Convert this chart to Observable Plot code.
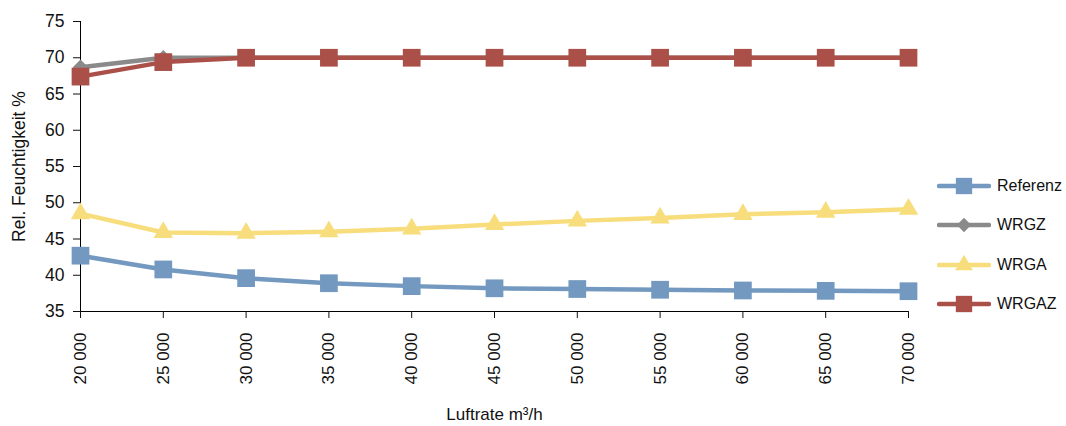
<!DOCTYPE html>
<html>
<head>
<meta charset="utf-8">
<script src="https://cdn.jsdelivr.net/npm/d3@7"></script>
<script src="https://cdn.jsdelivr.net/npm/@observablehq/plot@0.6"></script>
<style>
  html, body { margin: 0; padding: 0; background: #fff; }
  #wrap { position: relative; width: 1066px; height: 426px; font-family: "Liberation Sans", Arial, sans-serif; }
  #legend { position: absolute; left: 937px; top: 166px; }
  .item { display: flex; align-items: center; height: 39.5px; font-size: 16px; color: #111; white-space: nowrap; }
  .item svg { margin-right: 6px; }
</style>
</head>
<body>
<div id="wrap"><div id="chart"></div><div id="legend"></div></div>
<script>
const xValues = [20000, 25000, 30000, 35000, 40000, 45000, 50000, 55000, 60000, 65000, 70000];
const referenz = [42.7, 40.8, 39.6, 38.9, 38.5, 38.2, 38.1, 38.0, 37.9, 37.85, 37.8];
const wrgz     = [68.7, 70.0, 70.0, 70.0, 70.0, 70.0, 70.0, 70.0, 70.0, 70.0, 70.0];
const wrga     = [48.5, 45.9, 45.8, 46.0, 46.4, 47.0, 47.5, 47.9, 48.4, 48.7, 49.1];
const wrgaz    = [67.4, 69.4, 70.0, 70.0, 70.0, 70.0, 70.0, 70.0, 70.0, 70.0, 70.0];
const seriesNames = ["Referenz", "WRGZ", "WRGA", "WRGAZ"];
const seriesValues = [referenz, wrgz, wrga, wrgaz];
const seriesColors = ["#7399c0", "#8a8a8a", "#f8dd7c", "#aa5049"];
const seriesSymbols = ["square", "diamond2", "triangle", "square"];
const seriesRadius = [10, 7, 7.2, 10];
const yTicks = [35, 40, 45, 50, 55, 60, 65, 70, 75];
const xTicks = xValues;
const yLabel = "Rel. Feuchtigkeit %";
const xLabel = "Luftrate m³/h";

const rows = [];
seriesNames.forEach((s, i) => xValues.forEach((x, j) => rows.push({series: s, x, y: seriesValues[i][j]})));

const fmt = d => d3.format(",")(d).replace(",", "\u00A0");

const marks = [
  Plot.ruleY([yTicks[0]], {stroke: "#000", strokeWidth: 1}),
  Plot.ruleX([xValues[0]], {stroke: "#000", strokeWidth: 1}),
  Plot.axisY({ticks: yTicks, tickSize: 7, tickPadding: 9, fontSize: 17.5, label: yLabel, labelAnchor: "center", labelOffset: 68, labelArrow: "none"}),
  Plot.axisX({ticks: xTicks, tickSize: 7, tickPadding: 14, tickRotate: -90, tickFormat: fmt, label: xLabel, labelAnchor: "center", labelOffset: 108, labelArrow: "none"})
];
seriesNames.forEach((s, i) => {
  const d = rows.filter(r => r.series === s);
  marks.push(Plot.line(d, {x: "x", y: "y", stroke: "series", strokeWidth: 4.5}));
  marks.push(Plot.dot(d, {x: "x", y: "y", fill: "series", symbol: "series", r: seriesRadius[i], stroke: "none"}));
});

const chart = Plot.plot({
  width: 930,
  height: 426,
  marginLeft: 80,
  marginRight: 22,
  marginTop: 21,
  marginBottom: 115,
  style: {fontFamily: "Liberation Sans, Arial, sans-serif", fontSize: "17px", color: "#111", background: "#fff"},
  x: {domain: [xValues[0], xValues[xValues.length - 1]]},
  y: {domain: [yTicks[0], yTicks[yTicks.length - 1]]},
  color: {domain: seriesNames, range: seriesColors},
  symbol: {domain: seriesNames, range: seriesSymbols},
  marks
});
document.getElementById("chart").appendChild(chart);

const legend = document.getElementById("legend");
seriesNames.forEach((s, i) => {
  const item = document.createElement("div");
  item.className = "item";
  const svg = d3.create("svg").attr("width", 54).attr("height", 24);
  svg.append("line").attr("x1", 2).attr("x2", 52).attr("y1", 12).attr("y2", 12)
    .attr("stroke", seriesColors[i]).attr("stroke-width", 4.5).attr("stroke-linecap", "round");
  const sym = {square: d3.symbolSquare, diamond2: d3.symbolDiamond2, triangle: d3.symbolTriangle}[seriesSymbols[i]];
  svg.append("path").attr("transform", "translate(27,12)")
    .attr("d", d3.symbol(sym, Math.PI * seriesRadius[i] * seriesRadius[i] * 0.85)())
    .attr("fill", seriesColors[i]);
  item.appendChild(svg.node());
  const t = document.createElement("span");
  t.textContent = s;
  item.appendChild(t);
  legend.appendChild(item);
});
</script>
</body>
</html>
